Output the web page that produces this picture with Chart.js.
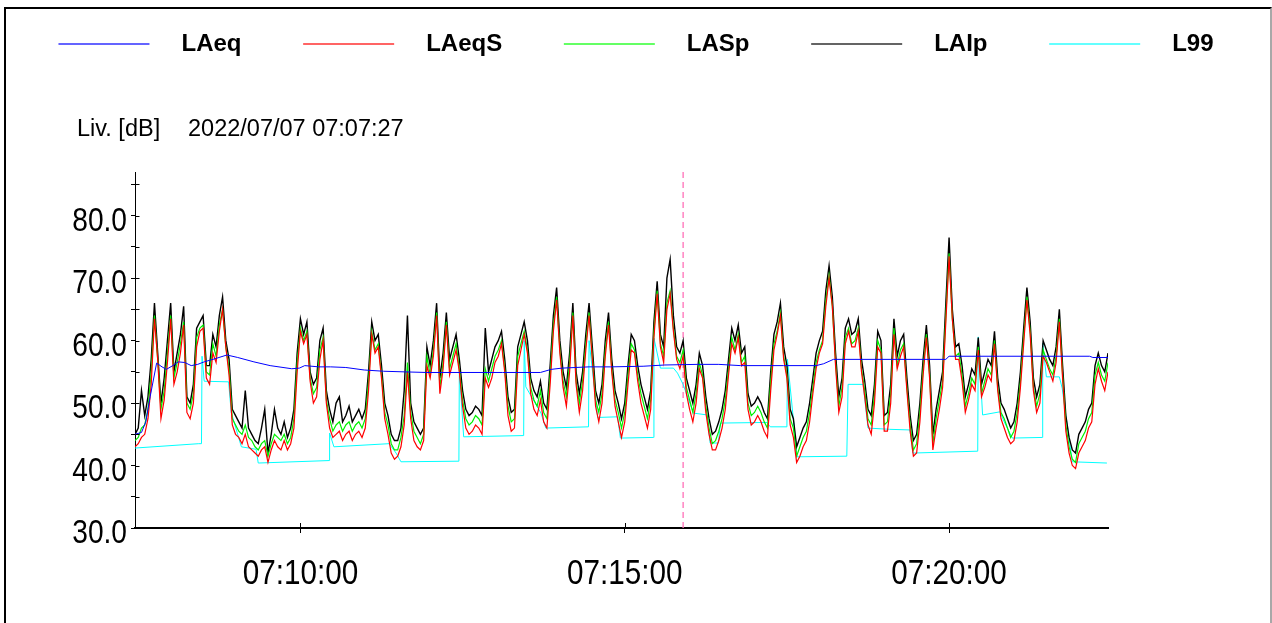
<!DOCTYPE html>
<html>
<head>
<meta charset="utf-8">
<title>Liv. [dB]</title>
<script src="https://cdn.jsdelivr.net/npm/chart.js@4.4.0/dist/chart.umd.min.js"></script>
<style>
  html, body { margin: 0; padding: 0; background: #ffffff; }
  #wrap { position: relative; width: 1272px; height: 623px; overflow: hidden; }
  #frame {
    position: absolute; left: 4px; top: 7px; width: 1264px; height: 640px;
    border-top: 2px solid #000; border-left: 2px solid #000; border-right: 2px solid #a8a8a8;
    pointer-events: none;
  }
  canvas { display: block; }
</style>
</head>
<body>
<div id="wrap">
  <canvas id="chart" width="1272" height="623"></canvas>
  <div id="frame"></div>
</div>
<script>
// Measurement session start and sampling interval of the fast series (seconds)
const START_TIME = '07:07:27';
const START_DATE = '2022/07/07';
const SAMPLE_STEP = 3;

// LAIp – impulse-weighted level, one value per sample
const LAIP = [
  45,46,52,48,51,57,66,58,50,54,
  60,66,55,58,61,65.5,51,50,53,62,
  63,64,56,56,61,59,64,67,60,57,
  49,48,47,46,52,46,45,44,43.5,46,
  49,42,45,49,46,45,47,44.5,46,49,
  58,63.5,61,63,55,53,54,60,62,52,
  49,47,50,51,47,48,49.5,47,48,49,
  47.5,49,55,63,60,61,56,50,48,45,
  44,44,46,52,64,50,47,46,45,46,
  59,56,60,66,54,58,64.5,57,59,61,
  57,52,49,48,48.5,49.5,49,48,62,55,
  57,59,60,61.5,57,51,48.5,49,59,61,
  63,60,54,52,51,53.5,50,49,56,64,
  68.5,60,55,52.5,58,66,55,51.5,55,61,
  66,59,52,50,53,60,64.5,57,52,50,
  47.5,50,56,61,60,56,53,51,49,52,
  63,69.5,61,59,70,73,64,59,58,60,
  54,52,50,53,58,56,51,47.5,45,45.5,
  47,49,52,57,62,60,62.5,58,59,51.5,
  49.5,50,51,50,48.5,47.5,55,61,63,66,
  59,56,49,47.5,43,44.5,46,47,50,54,
  58,60,61.5,68,72,67,58,51,54,62,
  63.5,61,61.5,63.5,57,53.5,49,48,53,61.5,
  60,48,48.5,53,63.5,57.5,60,61,54,48,
  44,45,50,57,62.5,56,45,49,52,55,
  66,76.5,65,59,59.5,56,51,53,55.5,54.5,
  60.5,53,55,57,56,61.5,54,50,49,47.5,
  46,47,50,55,62,68.5,63,54,51,53,
  60,58.5,57,56,59,65,56,48,44.5,42.5,
  42,45,46,47,49,50,56,58,56,55,
  58
];

// LASp – slow-weighted level
const LASP = [
  44,44.5,46,46.5,49,55,64,57,49,52,
  58,64,54,56.5,59.5,63,50,49,51.5,60.5,
  62,62.5,55,54.5,59.5,57.5,62.5,65,59,55.5,
  47.5,46.5,45.5,45,46.5,44.5,44,43,42.5,43.5,
  44,41.5,43.5,45,44.5,44,45,43.5,44.5,47.5,
  56.5,62,60,61.5,54,51.5,52.5,58.5,60.5,50.5,
  47.5,45.5,46.5,47,45.5,46.5,47,45.5,46.5,47,
  46,47.5,53.5,61.5,58.5,59.5,54.5,48.5,46.5,43.5,
  42.5,42.5,44.5,48,56.5,48.5,45.5,44.5,43.5,45,
  57.5,54.5,58.5,64.5,52.5,56.5,63,55.5,57.5,59.5,
  55.5,50.5,47.5,46.5,47,48,47.5,46.5,55.5,53.5,
  55.5,57.5,58.5,60,55.5,49.5,47,47.5,57.5,59.5,
  61.5,58.5,52.5,50.5,49.5,52,48.5,47.5,54.5,62.5,
  67,58.5,53.5,51,56.5,64.5,53.5,50,53.5,59.5,
  64.5,57.5,50.5,48.5,51.5,58.5,63,55.5,50.5,48.5,
  46,48.5,54.5,59.5,58.5,54.5,51.5,49.5,47.5,50.5,
  61.5,68,59.5,57.5,66,68,62,57.5,56.5,58.5,
  52.5,50.5,48.5,51.5,56.5,54.5,49.5,46,43.5,44,
  45.5,47.5,50.5,55.5,60.5,58.5,61,56.5,57.5,50,
  48,48.5,49.5,48.5,47,46,53.5,59.5,61.5,64.5,
  57.5,54.5,47.5,46,41.5,43,44.5,45.5,48.5,52.5,
  56.5,58.5,60,66.5,70.5,65.5,56.5,49.5,52.5,60.5,
  62,59.5,60,62,55.5,52,47.5,46.5,51.5,60,
  58.5,46.5,47,51.5,62,56,58.5,59.5,52.5,46.5,
  42.5,43.5,48.5,55.5,61,54.5,43.5,47.5,50.5,53.5,
  64,74,63.5,57.5,58,54.5,49.5,51.5,54,53,
  59,51.5,53.5,55.5,54.5,60,52.5,48.5,47.5,46,
  44.5,45.5,48.5,53.5,60.5,67,61.5,52.5,49.5,51.5,
  58.5,57,55.5,54.5,57.5,63.5,54.5,46.5,43,41,
  40.5,43.5,44.5,45.5,47.5,48.5,54.5,56.5,54.5,53.5,
  56.5
];

// LAeqS – short Leq
const LAEQS = [
  43,43.5,44.5,45,47.5,53,63.5,57,47.5,50.5,
  56.5,63.5,53,55,58,62.5,48.5,47.5,50,59,
  61.5,62,54,53,58,56.5,61.5,65,59,54.5,
  46.5,45,44.5,43.5,45,43,42.5,42,41.5,42.5,
  43,40.5,42.5,44,43,42.5,44,42.5,43.5,46,
  55,61.5,59.5,61,53.5,50,51,57,60,50,
  46,44.5,45,45.5,44,45,45.5,44,45,45.5,
  44.5,46,52,61,58,59,54,47.5,45,42,
  41,41.5,43,46.5,55,47.5,44,43,42.5,44,
  56,54,57.5,64,51.5,55.5,62.5,54.5,56.5,58.5,
  55,49.5,46,45,45.5,46.5,46,45,54,52.5,
  54,56.5,57.5,59.5,55,48,45.5,46,56,58.5,
  61,58,51.5,49,48,50.5,47,46,53,61.5,
  66.5,58,52.5,49.5,55,64,53,48.5,52,58.5,
  64,57,49.5,47,50,57.5,62.5,55,49.5,47,
  44.5,47,53,58.5,58,53.5,50,48,46,49,
  60.5,67.5,59,56.5,65,67.5,61.5,57,55.5,57.5,
  51.5,49,47,50,55.5,54,48.5,45,42.5,42.5,
  44,46,49,54.5,59.5,58,60.5,56,56.5,49,
  46.5,47,48,47,45.5,44.5,52,58.5,61,64,
  57,54,46.5,44.5,40.5,41.5,43,44,47,51.5,
  55.5,58,59.5,65.5,70,65.5,56,48.5,51,59.5,
  61.5,59,59,61.5,55,51,46.5,45,50,59,
  58,45.5,45.5,50,61,55.5,57.5,59,52,45.5,
  41.5,42,47,54.5,60.5,54,42.5,46,49,52.5,
  63,73.5,63.5,57,57,53.5,48.5,50.5,53,52,
  58.5,51,52.5,54.5,53.5,59.5,52,47.5,46,44.5,
  43.5,44,47,52.5,59.5,66.5,61,52,48.5,50,
  57.5,56.5,55,53.5,56.5,63,54,45.5,42,40,
  39.5,42,43,44,46,47,53,55.5,53.5,52,
  55
];

// LAeq – running Leq since start (time in s, level in dB)
const LAEQ_T = [0,6,10,14,20,25,29,35,40,46,52,58,64,74,85,95,110,125,145,152,157,170,181,195,212,230,249,270,300,340,375,385,395,420,440,470,490,520,540,560,600,630,637,646,700,750,753,800,850,883,886,900];
const LAEQ_V = [45,45.3,47,51,56.4,55.8,55.4,56,56.6,56.5,56,56.2,56.6,57.1,57.7,57.3,56.6,56,55.5,55.6,56,55.8,55.8,55.7,55.3,55.1,55,54.9,54.9,54.9,54.9,55.4,55.6,55.8,55.8,55.9,56.1,56.2,56.2,56,56,56,56.3,57,57,57,57.5,57.5,57.5,57.5,57.3,57.3];

// L99 – percentile level, reset in blocks (time in s, level in dB)
const L99_T = [0,59,61.5,62,64,86.6,89,98.4,112,114,179.6,180,184,235,241.5,246,299.6,300,304,359.5,360,361.5,375.5,380,419.5,420,428,446.4,449,479.5,480,486,498,501.8,507,516.5,529.3,532,539.6,541.5,584.6,587.6,603,603.5,612.4,658.4,659.6,673.5,678,698,716.8,719.5,779.5,780,784,800,804,811.5,839.2,839.6,843,855,857.6,867,899];
const L99_V = [42.8,43.5,43.5,57.5,53.5,53.4,48.5,43,42.6,40.4,40.8,45.2,43,43.5,42,40.6,40.7,55.3,44.6,44.8,60,52.6,48.4,46,46.2,60,47.7,47.8,44.4,44.5,60.4,55.6,55.6,54.8,53,48.4,48.1,43.6,43.6,46.8,46.9,46.2,46.2,57,41.4,41.5,53,53,46,45.8,45.7,42,42.3,60.6,48.1,48.6,47,44.4,44.5,59.6,54.2,54.2,52.4,40.6,40.4];

// Cursor position (s after start)
const CURSOR_T = 507;

// Axis ticks
const TIME_TICKS = [153, 453, 753];
const TIME_LABELS = ['07:10:00', '07:15:00', '07:20:00'];
const LEVEL_TICKS = [30, 35, 40, 45, 50, 55, 60, 65, 70, 75, 80, 85];
const LEVEL_LABELS = ['30.0', '', '40.0', '', '50.0', '', '60.0', '', '70.0', '', '80.0', ''];

// Series names and colours
const SERIES_NAMES = ['LAeq', 'LAeqS', 'LASp', 'LAIp', 'L99'];
const SERIES_COLORS = ['#0000ff', '#ff0000', '#00f000', '#000000', '#00ffff'];
const SERIES_WIDTHS = [1, 1.2, 1.2, 1.4, 1];
const SWATCH_COLORS = ['#6464ff', '#ff6464', '#64ff64', '#646464', '#64ffff'];

const SANS = '"Liberation Sans", Arial, Helvetica, sans-serif';

const sampled = arr => arr.map((v, i) => ({ x: i * SAMPLE_STEP, y: v }));
const paired = (ts, vs) => ts.map((t, i) => ({ x: t, y: vs[i] }));

const seriesData = [
  paired(LAEQ_T, LAEQ_V),
  sampled(LAEQS),
  sampled(LASP),
  sampled(LAIP),
  paired(L99_T, L99_V)
];

const datasets = SERIES_NAMES.map((name, i) => ({
  label: name,
  data: seriesData[i],
  borderColor: SERIES_COLORS[i],
  backgroundColor: SERIES_COLORS[i],
  borderWidth: SERIES_WIDTHS[i],
  pointRadius: 0,
  tension: 0,
  fill: false
}));

datasets.push({
  label: 'cursor',
  data: [{ x: CURSOR_T, y: 30 }, { x: CURSOR_T, y: 87 }],
  borderColor: '#ff70b8',
  borderWidth: 1.3,
  borderDash: [6, 4],
  pointRadius: 0,
  fill: false
});

const LEGEND_TOP_PAD = 17;
const LEGEND_BAND = 155;

// Narrow tick-label rendering (condensed face drawn at the scale's tick positions)
function drawNarrow(ctx, text, x, y, align, squeeze) {
  ctx.save();
  ctx.translate(x, y);
  ctx.scale(squeeze, 1);
  ctx.textAlign = align;
  ctx.fillText(text, 0, 0);
  ctx.restore();
}

// Header text, tick labels, inner halves of the axis ticks, legend band height
const decorations = {
  id: 'decorations',
  beforeInit(chart) {
    const lg = chart.legend;
    if (lg) {
      const fit = lg.fit;
      lg.fit = function () { fit.call(this); this.height = LEGEND_BAND; };
    }
  },
  afterDraw(chart) {
    const { ctx, scales } = chart;
    const xs = scales.x, ys = scales.y;
    ctx.save();
    ctx.fillStyle = '#000';
    ctx.textBaseline = 'alphabetic';

    ctx.font = '23.5px ' + SANS;
    ctx.fillText('Liv. [dB]', 77, 136);
    ctx.fillText(START_DATE + ' ' + START_TIME, 188, 136);

    ctx.font = '33.5px ' + SANS;
    LEVEL_TICKS.forEach((v, k) => {
      const t = LEVEL_LABELS[k];
      if (t) drawNarrow(ctx, t, 127, ys.getPixelForValue(v) + 15, 'right', 0.84);
    });
    ctx.font = '34.5px ' + SANS;
    TIME_TICKS.forEach((v, k) => {
      drawNarrow(ctx, TIME_LABELS[k], xs.getPixelForValue(v), 584, 'center', 0.86);
    });

    ctx.strokeStyle = '#000';
    ctx.lineWidth = 1;
    ctx.beginPath();
    const x0 = Math.round(xs.left) + 0.5;
    LEVEL_TICKS.forEach(v => {
      const py = Math.round(ys.getPixelForValue(v)) + 0.5;
      ctx.moveTo(x0, py); ctx.lineTo(x0 + 4, py);
    });
    const y0 = Math.round(ys.bottom);
    TIME_TICKS.forEach(v => {
      const px = Math.round(xs.getPixelForValue(v)) + 0.5;
      ctx.moveTo(px, y0); ctx.lineTo(px, y0 - 5);
    });
    ctx.stroke();
    ctx.restore();
  }
};

new Chart(document.getElementById('chart'), {
  type: 'line',
  data: { datasets },
  options: {
    responsive: false,
    animation: false,
    devicePixelRatio: 1,
    layout: { padding: { top: LEGEND_TOP_PAD, left: 0, right: 0, bottom: 0 } },
    plugins: {
      tooltip: { enabled: false },
      legend: {
        display: true,
        position: 'top',
        labels: {
          boxWidth: 91,
          boxHeight: 2,
          padding: 15,
          color: '#000',
          font: { family: SANS, size: 24, weight: 'bold' },
          generateLabels: () => SERIES_NAMES.map((name, i) => ({
            text: '   ' + name + (i < SERIES_NAMES.length - 1 ? '       ' : ''),
            fillStyle: SWATCH_COLORS[i],
            strokeStyle: SWATCH_COLORS[i],
            lineWidth: 0,
            hidden: false,
            datasetIndex: i
          }))
        }
      }
    },
    scales: {
      x: {
        type: 'linear',
        min: 0,
        max: 900,
        afterBuildTicks: s => { s.ticks = TIME_TICKS.map(v => ({ value: v })); },
        afterFit: s => { s.height = 95; },
        ticks: { display: false },
        grid: { drawOnChartArea: false, drawTicks: true, tickLength: 5, tickColor: '#000' },
        border: { color: '#000', width: 2 }
      },
      y: {
        type: 'linear',
        position: 'left',
        min: 30,
        max: 87,
        afterBuildTicks: s => { s.ticks = LEVEL_TICKS.map(v => ({ value: v })); },
        afterFit: s => { s.width = 135; },
        ticks: { display: false },
        grid: { drawOnChartArea: false, drawTicks: true, tickLength: 4, tickColor: '#000' },
        border: { color: '#000', width: 1 }
      },
      pad: {
        type: 'linear',
        axis: 'y',
        position: 'right',
        afterFit: s => { s.width = 164; },
        ticks: { display: false },
        grid: { display: false },
        border: { display: false }
      }
    }
  },
  plugins: [decorations]
});
</script>
</body>
</html>
